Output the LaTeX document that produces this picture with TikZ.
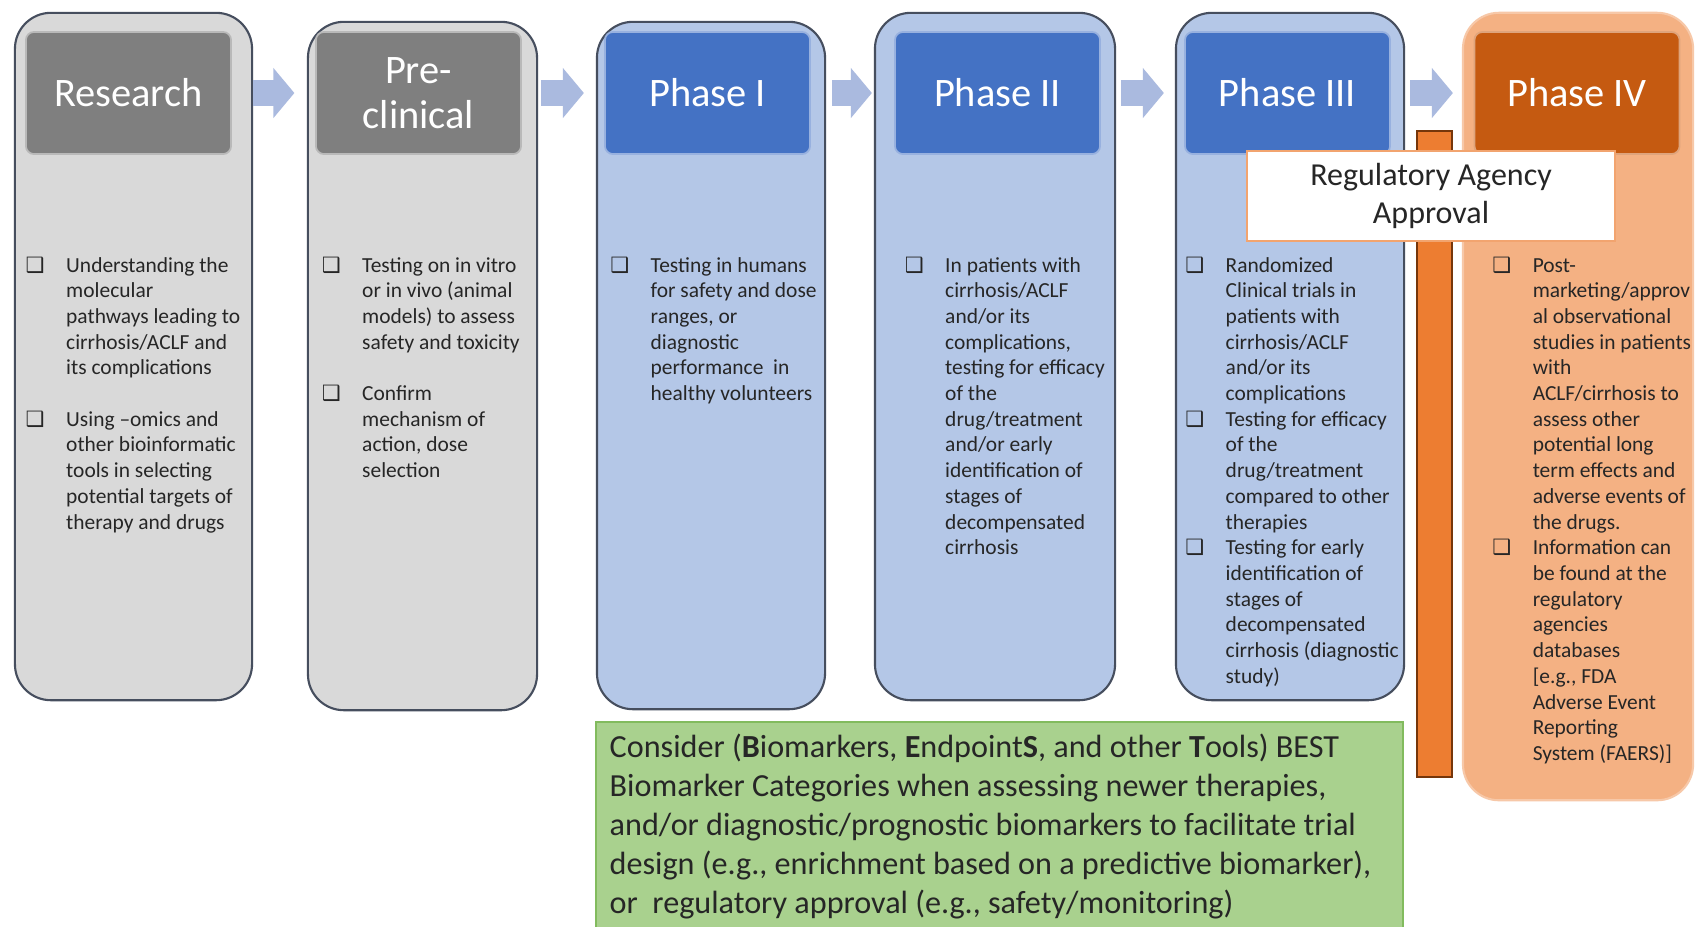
\documentclass[tikz,border=0pt]{standalone}
\usepackage{fontspec}
\setmainfont{Carlito}
\newfontfamily\symfont{DejaVu Sans}
\usetikzlibrary{arrows.meta}

\definecolor{greyfill}{HTML}{D9D9D9}
\definecolor{greyhead}{HTML}{7F7F7F}
\definecolor{bluefill}{HTML}{B4C7E7}
\definecolor{bluehead}{HTML}{4472C4}
\definecolor{orangefill}{HTML}{F4B183}
\definecolor{orangehead}{HTML}{C55A11}
\definecolor{barorange}{HTML}{ED7D31}
\definecolor{greenfill}{HTML}{A9D18E}
\definecolor{greenline}{HTML}{82BB5E}
\definecolor{arrowblue}{HTML}{AABADF}
\definecolor{boxline}{HTML}{464E5E}
\definecolor{inktext}{HTML}{262626}

\newcommand{\bodyfont}{\fontsize{6.1}{7.31}\selectfont}
\newcommand{\headfont}{\fontsize{11.5}{12.8}\selectfont}
\newcommand{\regfont}{\fontsize{9.1}{10.9}\selectfont}
\newcommand{\bestfont}{\fontsize{9.15}{11.1}\selectfont}
\newcommand{\bulletbox}{\makebox[0pt]{\symfont\bfseries\fontsize{6}{7}\selectfont ❑}}

\tikzset{
  stagebox/.style={rectangle, rounded corners=0.36cm, draw=boxline, line width=0.6pt, inner sep=0pt},
  headbox/.style={rectangle, rounded corners=0.08cm, line width=0.5pt, minimum width=2.05cm,
    minimum height=1.22cm, inner sep=0pt, text=white, font=\headfont, align=center},
  itemlist/.style={anchor=base west, inner sep=0pt, font=\bodyfont, text=inktext},
  flowarrow/.style={arrowblue, line width=0.26cm, -{Triangle[length=0.21cm,width=0.49cm]}},
}

\begin{document}
\begin{tikzpicture}[x=0.01cm, y=-0.01cm]
    \useasboundingbox (0,0) rectangle (1695,926);
    \fill[white] (0,0) rectangle (1695,926);

    % stages
    \node[stagebox, fill=greyfill, minimum width=2.37cm, minimum height=6.87cm] (research) at (133.5,356.5) {};
    \node[stagebox, fill=greyfill, minimum width=2.29cm, minimum height=6.88cm] (preclin) at (422.5,366) {};
    \node[stagebox, fill=bluefill, minimum width=2.28cm, minimum height=6.87cm] (phasei) at (711,365.5) {};
    \node[stagebox, fill=bluefill, minimum width=2.40cm, minimum height=6.87cm] (phaseii) at (995,356.5) {};
    \node[stagebox, fill=bluefill, minimum width=2.28cm, minimum height=6.87cm] (phaseiii) at (1290,356.5) {};
    \node[stagebox, fill=orangefill, draw=orangefill!70!white, minimum width=2.30cm, minimum height=7.87cm] (phaseiv) at (1578,406.5) {};

    \node[headbox, fill=greyhead, draw=greyhead!55!white] (research-hd) at (128.5,93) {Research};
    \node[headbox, fill=greyhead, draw=greyhead!55!white] (preclin-hd) at (418.5,93) {Pre-\\clinical};
    \node[headbox, fill=bluehead, draw=bluehead!55!white] (phasei-hd) at (707.5,93) {Phase I};
    \node[headbox, fill=bluehead, draw=bluehead!55!white] (phaseii-hd) at (997.5,93) {Phase II};
    \node[headbox, fill=bluehead, draw=bluehead!55!white] (phaseiii-hd) at (1287.5,93) {Phase III};
    \node[headbox, fill=orangehead, draw=orangehead!55!white] (phaseiv-hd) at (1577,93) {Phase IV};

    \foreach \a/\b/\s/\e in {research/preclin/0/0.125, preclin/phasei/0.03/0.12,
        phasei/phaseii/0.06/0.02, phaseii/phaseiii/0.05/0.11, phaseiii/phaseiv/0.05/0.09}
      \draw[flowarrow, shorten <=\s cm, shorten >=\e cm] (\a.east |- \a-hd.east) -- (\b.west |- \a-hd.east);

    % bullet texts
    \node[itemlist] (research-txt) at (34.5,272) {\begin{tabular}[t]{@{}l@{\hspace{0.31cm}}l@{}}
      \bulletbox & Understanding the\\
       & molecular\\
       & pathways leading to\\
       & cirrhosis/ACLF and\\
       & its complications\\
       & \\
      \bulletbox & Using –omics and\\
       & other bioinformatic\\
       & tools in selecting\\
       & potential targets of\\
       & therapy and drugs
    \end{tabular}};
    \node[itemlist] (preclin-txt) at (330.5,272) {\begin{tabular}[t]{@{}l@{\hspace{0.31cm}}l@{}}
      \bulletbox & Testing on in vitro\\
       & or in vivo (animal\\
       & models) to assess\\
       & safety and toxicity\\
       & \\
      \bulletbox & Confirm\\
       & mechanism of\\
       & action, dose\\
       & selection
    \end{tabular}};
    \node[itemlist] (phasei-txt) at (619,272) {\begin{tabular}[t]{@{}l@{\hspace{0.31cm}}l@{}}
      \bulletbox & Testing in humans\\
       & for safety and dose\\
       & ranges, or\\
       & diagnostic\\
       & performance\ \ in\\
       & healthy volunteers
    \end{tabular}};
    \node[itemlist] (phaseii-txt) at (913.5,272) {\begin{tabular}[t]{@{}l@{\hspace{0.31cm}}l@{}}
      \bulletbox & In patients with\\
       & cirrhosis/ACLF\\
       & and/or its\\
       & complications,\\
       & testing for efficacy\\
       & of the\\
       & drug/treatment\\
       & and/or early\\
       & identification of\\
       & stages of\\
       & decompensated\\
       & cirrhosis
    \end{tabular}};
    \node[itemlist] (phaseiii-txt) at (1194,272) {\begin{tabular}[t]{@{}l@{\hspace{0.31cm}}l@{}}
      \bulletbox & Randomized\\
       & Clinical trials in\\
       & patients with\\
       & cirrhosis/ACLF\\
       & and/or its\\
       & complications\\
      \bulletbox & Testing for efficacy\\
       & of the\\
       & drug/treatment\\
       & compared to other\\
       & therapies\\
      \bulletbox & Testing for early\\
       & identification of\\
       & stages of\\
       & decompensated\\
       & cirrhosis (diagnostic\\
       & study)
    \end{tabular}};
    \node[itemlist] (phaseiv-txt) at (1501,272) {\begin{tabular}[t]{@{}l@{\hspace{0.31cm}}l@{}}
      \bulletbox & Post-\\
       & marketing/approv\\
       & al observational\\
       & studies in patients\\
       & with\\
       & ACLF/cirrhosis to\\
       & assess other\\
       & potential long\\
       & term effects and\\
       & adverse events of\\
       & the drugs.\\
      \bulletbox & Information can\\
       & be found at the\\
       & regulatory\\
       & agencies\\
       & databases\\
       & [e.g., FDA\\
       & Adverse Event\\
       & Reporting\\
       & System (FAERS)]
    \end{tabular}};

    % approval
    \node[rectangle, fill=barorange, draw=orangehead!60!black, line width=0.5pt,
      minimum width=0.35cm, minimum height=6.46cm] (approvalbar) at (1434.5,454) {};
    \node[rectangle, fill=white, draw=barorange!70, line width=0.6pt, minimum width=3.68cm,
      minimum height=0.90cm, font=\regfont, text=inktext, align=center] (approval) at (1431,196)
      {Regulatory Agency\\Approval};

    % BEST box
    \node[rectangle, fill=greenfill, draw=greenline, line width=0.6pt, minimum width=8.07cm,
      minimum height=2.13cm] (best) at (999.5,828.5) {};
    \node[anchor=base west, inner sep=0pt, font=\bestfont, text=inktext] (best-txt) at (609,757)
      {\begin{tabular}[t]{@{}l@{}}
      Consider (\textbf{B}iomarkers, \textbf{E}ndpoint\textbf{S}, and other \textbf{T}ools) BEST\\
      Biomarker Categories when assessing newer therapies,\\
      and/or diagnostic/prognostic biomarkers to facilitate trial\\
      design (e.g., enrichment based on a predictive biomarker),\\
      or\ \ regulatory approval (e.g., safety/monitoring)
      \end{tabular}};
\end{tikzpicture}
\end{document}
